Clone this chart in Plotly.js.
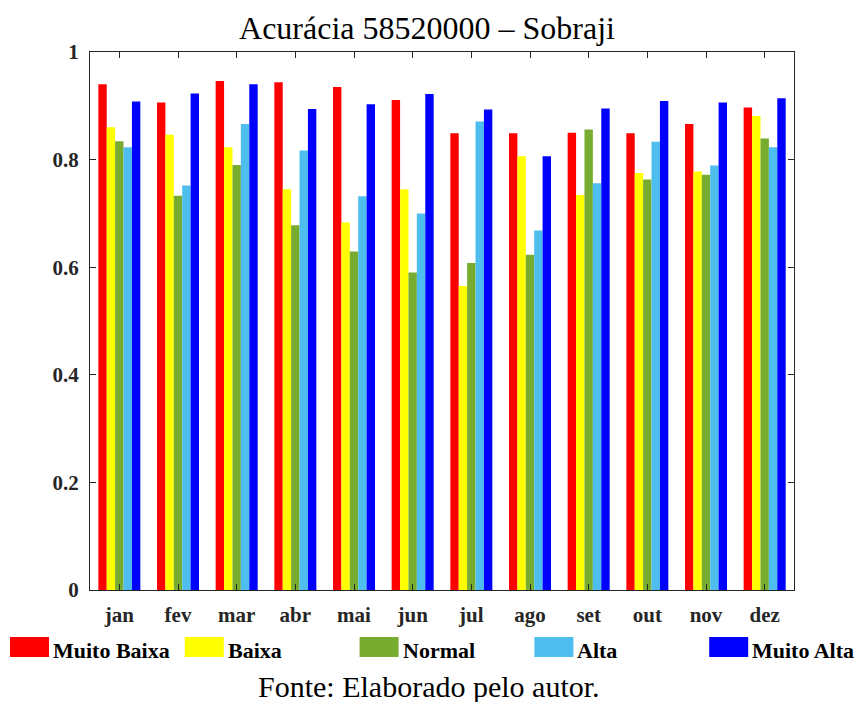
<!DOCTYPE html>
<html>
<head>
<meta charset="utf-8">
<script src="https://cdn.plot.ly/plotly-3.0.1.min.js"></script>
<style>html,body{margin:0;padding:0;background:#fff;}#chart{width:859px;height:702px;}</style>
</head>
<body>
<div id="chart"></div>
<script>
const months = ["jan","fev","mar","abr","mai","jun","jul","ago","set","out","nov","dez"];
const seriesNames = ["Muito Baixa","Baixa","Normal","Alta","Muito Alta"];
const seriesColors = ["#FF0000","#FFFF00","#77AC30","#4DBEEE","#0000FF"];
const muitoBaixa = [0.940,0.906,0.946,0.944,0.935,0.911,0.849,0.849,0.850,0.849,0.866,0.897];
const baixa      = [0.860,0.846,0.823,0.745,0.683,0.745,0.565,0.806,0.734,0.775,0.778,0.881];
const normal     = [0.834,0.733,0.790,0.678,0.629,0.590,0.608,0.623,0.856,0.763,0.772,0.839];
const alta       = [0.823,0.752,0.866,0.817,0.732,0.700,0.871,0.668,0.756,0.833,0.789,0.823];
const muitoAlta  = [0.908,0.923,0.940,0.894,0.903,0.922,0.893,0.806,0.895,0.909,0.906,0.914];
const yTicks = [0,0.2,0.4,0.6,0.8,1];
const yTickText = ["0","0.2","0.4","0.6","0.8","1"];
const titleText = "Acurácia 58520000 – Sobraji";
const footerText = "Fonte: Elaborado pelo autor.";

const SERIF = "Liberation Serif";
const allSeries = [muitoBaixa, baixa, normal, alta, muitoAlta];
const traces = allSeries.map((vals, i) => ({
  type: "bar",
  name: seriesNames[i],
  x: months,
  y: vals,
  marker: {color: seriesColors[i], line: {width: 0}},
  showlegend: false,
  hoverinfo: "x+y+name"
}));

const W = 859, H = 702;
const mL = 90, mR = 65, mT = 52, mB = 112;
const plotW = W - mL - mR, plotH = H - mT - mB;
const px2x = p => (p - mL) / plotW;
const px2y = p => (H - mB - p) / plotH;

const shapes = [];
const annotations = [];
const legendStart = 10, legendStep = 174.8, swW = 39, swTop = 637, swBot = 657;
seriesNames.forEach((n, i) => {
  const x0 = legendStart + i * legendStep;
  shapes.push({type: "rect", xref: "paper", yref: "paper",
    x0: px2x(x0), x1: px2x(x0 + swW), y0: px2y(swBot), y1: px2y(swTop),
    fillcolor: seriesColors[i], line: {width: 0}});
  annotations.push({xref: "paper", yref: "paper", x: px2x(x0 + swW + 2), y: px2y(650),
    xanchor: "left", yanchor: "middle", showarrow: false, text: "<b>" + n + "</b>",
    font: {family: SERIF, size: 22, color: "#000"}});
});
annotations.push({xref: "paper", yref: "paper", x: px2x(429), y: px2y(686),
  xanchor: "center", yanchor: "middle", showarrow: false, text: footerText,
  font: {family: SERIF, size: 30, color: "#000"}});

const axisCommon = {
  showline: true, linecolor: "#262626", linewidth: 1, mirror: "ticks",
  ticks: "inside", ticklen: 6, tickcolor: "#262626", tickwidth: 1,
  showgrid: false, zeroline: false,
  tickfont: {family: SERIF, size: 21, color: "#262626", weight: "bold"}
};

const layout = {
  width: W, height: H,
  margin: {l: mL, r: mR, t: mT, b: mB, pad: 0},
  paper_bgcolor: "#fff", plot_bgcolor: "#fff",
  title: {text: titleText, x: 427/W, xanchor: "center", y: 1 - 28/H, yanchor: "middle", yref: "container",
    font: {family: SERIF, size: 32, color: "#000"}},
  barmode: "group", bargap: 0.284, bargroupgap: 0,
  xaxis: Object.assign({}, axisCommon, {type: "category", range: [-0.5, 11.5], ticklabelstandoff: 6}),
  yaxis: Object.assign({}, axisCommon, {range: [0, 1], tickvals: yTicks, ticktext: yTickText, ticklabelstandoff: 6}),
  shapes: shapes,
  annotations: annotations,
  showlegend: false
};

Plotly.newPlot("chart", traces, layout, {displayModeBar: false, staticPlot: true});
</script>
</body>
</html>
